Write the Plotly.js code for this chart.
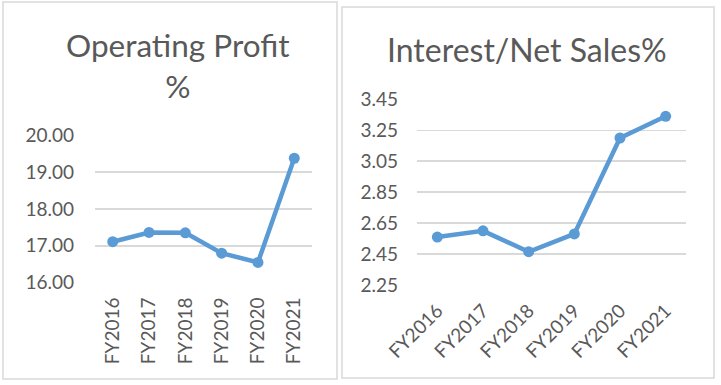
<!DOCTYPE html>
<html>
<head>
<meta charset="utf-8">
<script src="https://cdn.plot.ly/plotly-3.0.1.min.js"></script>
<style>html,body{margin:0;padding:0;background:#fff;}#chart{width:721px;height:385px;}</style>
</head>
<body>
<div id="chart"></div>
<script>
var categories = ["FY2016", "FY2017", "FY2018", "FY2019", "FY2020", "FY2021"];
var operatingProfitPct = [17.11, 17.36, 17.35, 16.80, 16.55, 19.37];
var interestNetSalesPct = [2.56, 2.60, 2.465, 2.58, 3.20, 3.34];
var leftTicks = [16, 17, 18, 19, 20];
var leftTickText = ["16.00", "17.00", "18.00", "19.00", "20.00"];
var rightTicks = [2.25, 2.45, 2.65, 2.85, 3.05, 3.25, 3.45];
var rightTickText = ["2.25", "2.45", "2.65", "2.85", "3.05", "3.25", "3.45"];
var leftTitle = "Operating Profit<br>%";
var rightTitle = "Interest/Net Sales%";

var W = 721, H = 385;
function px(x){return x/W;}
function py(y){return 1 - y/H;}

var lineColor = "#5b9bd5";
var textColor = "#595959";
var gridColor = "#d9d9d9";
var tickFont = {family: "Lato, 'Open Sans', sans-serif", size: 19, color: textColor};

var traces = [
  {x: categories, y: operatingProfitPct, type: "scatter", mode: "lines+markers",
   line: {color: lineColor, width: 4.5}, marker: {color: lineColor, size: 11},
   xaxis: "x", yaxis: "y", hoverinfo: "none"},
  {x: categories, y: interestNetSalesPct, type: "scatter", mode: "lines+markers",
   line: {color: lineColor, width: 4.5}, marker: {color: lineColor, size: 11},
   xaxis: "x2", yaxis: "y2", hoverinfo: "none"}
];

var layout = {
  width: W, height: H,
  margin: {l: 0, r: 0, t: 0, b: 0},
  paper_bgcolor: "#ffffff", plot_bgcolor: "#ffffff",
  showlegend: false,
  xaxis: {domain: [px(95), px(312)], anchor: "y", type: "category",
          showgrid: false, zeroline: false, showline: false, ticks: "",
          tickangle: -90, tickfont: tickFont, ticklabelstandoff: 10, fixedrange: true},
  yaxis: {domain: [py(282.7), py(135)], anchor: "x", range: [16, 20],
          tickvals: leftTicks, ticktext: leftTickText, tickfont: tickFont,
          showgrid: true, gridcolor: gridColor, gridwidth: 1.5, zeroline: false,
          showline: false, ticks: "", ticklabelstandoff: 20, fixedrange: true},
  xaxis2: {domain: [px(417), px(686)], anchor: "y2", type: "category",
          showgrid: false, zeroline: false, showline: false, ticks: "",
          tickangle: -45, tickfont: tickFont, ticklabelstandoff: 10, fixedrange: true},
  yaxis2: {domain: [py(285), py(99.3)], anchor: "x2", range: [2.25, 3.45],
          tickvals: rightTicks, ticktext: rightTickText, tickfont: tickFont,
          showgrid: true, gridcolor: gridColor, gridwidth: 1.5, zeroline: false,
          showline: false, ticks: "", ticklabelstandoff: 18, fixedrange: true},
  annotations: [
    {text: leftTitle, xref: "paper", yref: "paper", x: px(178), y: py(24),
     xanchor: "center", yanchor: "top", showarrow: false,
     font: {family: "Lato, 'Open Sans', sans-serif", size: 31.5, color: textColor}},
    {text: rightTitle, xref: "paper", yref: "paper", x: px(527), y: py(28),
     xanchor: "center", yanchor: "top", showarrow: false,
     font: {family: "Lato, 'Open Sans', sans-serif", size: 32, color: textColor}}
  ],
  shapes: [
    {type: "rect", xref: "paper", yref: "paper", x0: px(3), x1: px(337), y0: py(379), y1: py(2),
     line: {color: gridColor, width: 1.5}},
    {type: "rect", xref: "paper", yref: "paper", x0: px(342), x1: px(714), y0: py(378), y1: py(7),
     line: {color: gridColor, width: 1.5}}
  ]
};

Plotly.newPlot("chart", traces, layout, {displayModeBar: false, staticPlot: true});
</script>
</body>
</html>
